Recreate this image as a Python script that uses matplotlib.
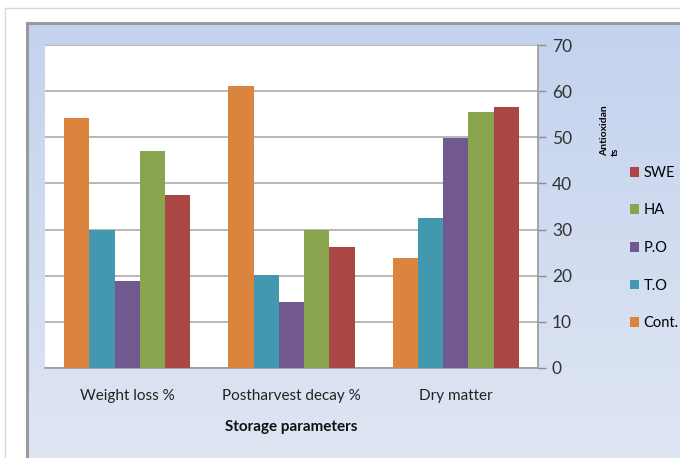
import matplotlib.pyplot as plt
import numpy as np
from matplotlib.lines import Line2D
from matplotlib.colors import LinearSegmentedColormap

plt.rcParams['font.family'] = ['Lato', 'DejaVu Sans']

categories = ['Weight loss %', 'Postharvest decay %', 'Dry matter']
treatments = ['Cont.', 'T.O', 'P.O', 'HA', 'SWE']
cont = [54.2, 61.2, 23.9]
t_o = [29.8, 20.1, 32.5]
p_o = [18.8, 14.4, 49.9]
ha = [47.1, 30.0, 55.4]
swe = [37.5, 26.2, 56.5]
series = [cont, t_o, p_o, ha, swe]
colors = ['#DB843D', '#4198AF', '#71588F', '#89A54E', '#AA4643']

W, H = 680, 458
fig = plt.figure(figsize=(W / 100, H / 100), dpi=100)
fig.patch.set_facecolor('white')

def fx(px):
    return px / W

def fy(py):
    return 1 - py / H

# outer frame line
fig.add_artist(Line2D([fx(5), fx(5)], [0, fy(8)], color='#D9D9D9', lw=1))
fig.add_artist(Line2D([fx(5), 1], [fy(8), fy(8)], color='#D9D9D9', lw=1))

# chart area with vertical blue gradient
bg = fig.add_axes([fx(27), 0, 1 - fx(27), fy(23)])
cmap = LinearSegmentedColormap.from_list('chartbg', ['#C3D2EE', '#DFE6F3'])
grad = np.linspace(0, 1, 256).reshape(-1, 1)
bg.imshow(grad, aspect='auto', cmap=cmap, extent=[0, 1, 0, 1], origin='upper')
bg.set_axis_off()
fig.add_artist(Line2D([fx(27), fx(27)], [0, fy(23)], color='#9A9A9A', lw=2.2))
fig.add_artist(Line2D([fx(27), 1], [fy(23), fy(23)], color='#9A9A9A', lw=2.2))

ax = fig.add_axes([fx(45), fy(368), fx(538) - fx(45), fy(45) - fy(368)])
ax.set_facecolor('white')

x = np.arange(len(categories))
width = 0.768 / len(series)
bars = []
for i, (vals, c, name) in enumerate(zip(series, colors, treatments)):
    b = ax.bar(x + (i - 2) * width, vals, width, color=c, label=name, zorder=3)
    bars.append(b)

ax.set_xlim(-0.5, 2.5)
ax.set_ylim(0, 70)
ax.set_yticks(range(0, 71, 10))
ax.yaxis.tick_right()
ax.tick_params(axis='y', direction='out', length=6, color='#8C8C8C', width=1,
               labelsize=12.5, labelcolor='#333333', pad=4)
ax.set_xticks(x)
ax.set_xticklabels(categories)
ax.tick_params(axis='x', length=0, labelsize=11, labelcolor='#222222', pad=15)
ax.set_xlabel('Storage parameters', fontsize=11, fontweight='bold', labelpad=12, color='#111111')
ax.grid(axis='y', color='#ABABAB', lw=1.2, zorder=0)
for s in ['top', 'left']:
    ax.spines[s].set_visible(False)
for s in ['right', 'bottom']:
    ax.spines[s].set_color('#9A9A9A')
    ax.spines[s].set_linewidth(1.2)

leg = ax.legend(bars[::-1], treatments[::-1], loc='upper left',
                bbox_to_anchor=(fx(624), fy(160)), bbox_transform=fig.transFigure,
                frameon=False, fontsize=10.5, handlelength=0.65, handleheight=0.65,
                handletextpad=0.3, labelspacing=1.62, borderaxespad=0)

fig.text(fx(610), fy(131), 'Antioxidan\nts', rotation=90, fontsize=7.5,
         fontweight='bold', ha='center', va='center', multialignment='left',
         linespacing=1.3)

fig.savefig('out.png', dpi=100)
